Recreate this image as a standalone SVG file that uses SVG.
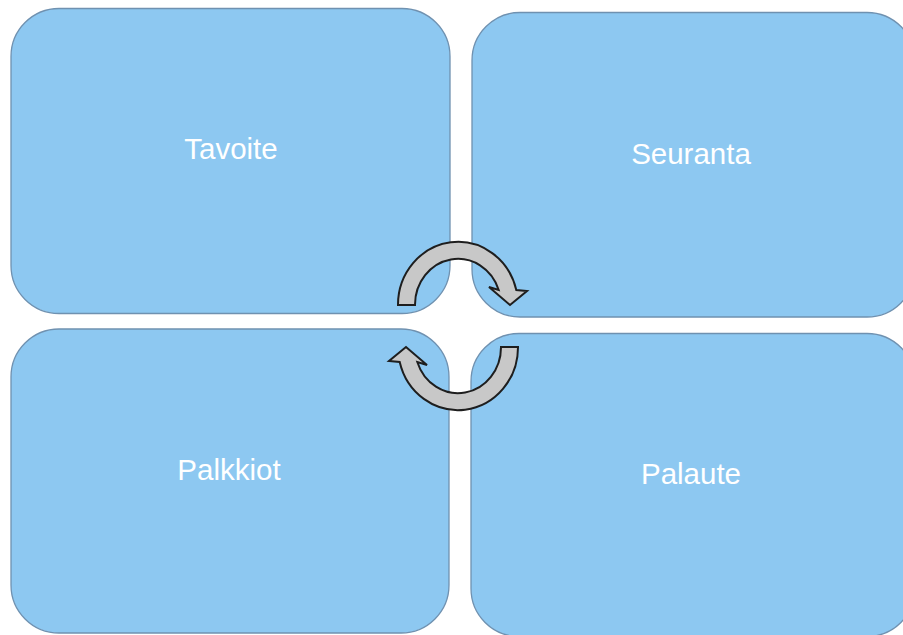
<svg xmlns="http://www.w3.org/2000/svg" width="903" height="635" viewBox="0 0 903 635">
  <style>
    .box { fill: #8dc8f1; stroke: #6f91b0; stroke-width: 1.3; }
    .lbl { fill: #ffffff; font-family: "Liberation Sans", Arial, sans-serif; font-size: 29.5px; text-anchor: middle; }
    .arrow { fill: #c8c8c8; stroke: #1e1e1e; stroke-width: 2; stroke-linejoin: miter; }
  </style>
  <defs>
    <path id="circArrow" d="M 398 305 A 60 63 0 0 1 516.3 290 L 527 291 L 510 305 L 489 287 L 498.7 290 A 43 46 0 0 0 415 305 Z"/>
  </defs>
  <rect width="903" height="635" fill="#ffffff"/>
  <g id="tavoite">
    <rect class="box" x="11" y="8.5" width="439" height="305" rx="48" ry="48"/>
    <text class="lbl" x="231" y="159">Tavoite</text>
  </g>
  <g id="seuranta">
    <rect class="box" x="472" y="12.5" width="443" height="304.5" rx="48" ry="48"/>
    <text class="lbl" x="691" y="164">Seuranta</text>
  </g>
  <g id="palkkiot">
    <rect class="box" x="11" y="329" width="438" height="304" rx="48" ry="48"/>
    <text class="lbl" x="229" y="480">Palkkiot</text>
  </g>
  <g id="palaute">
    <rect class="box" x="471" y="333.5" width="444" height="303" rx="48" ry="48"/>
    <text class="lbl" x="691" y="484">Palaute</text>
  </g>
  <g id="connectors">
    <use href="#circArrow" class="arrow"/>
    <use href="#circArrow" class="arrow" transform="rotate(180 458 326)"/>
  </g>
</svg>
